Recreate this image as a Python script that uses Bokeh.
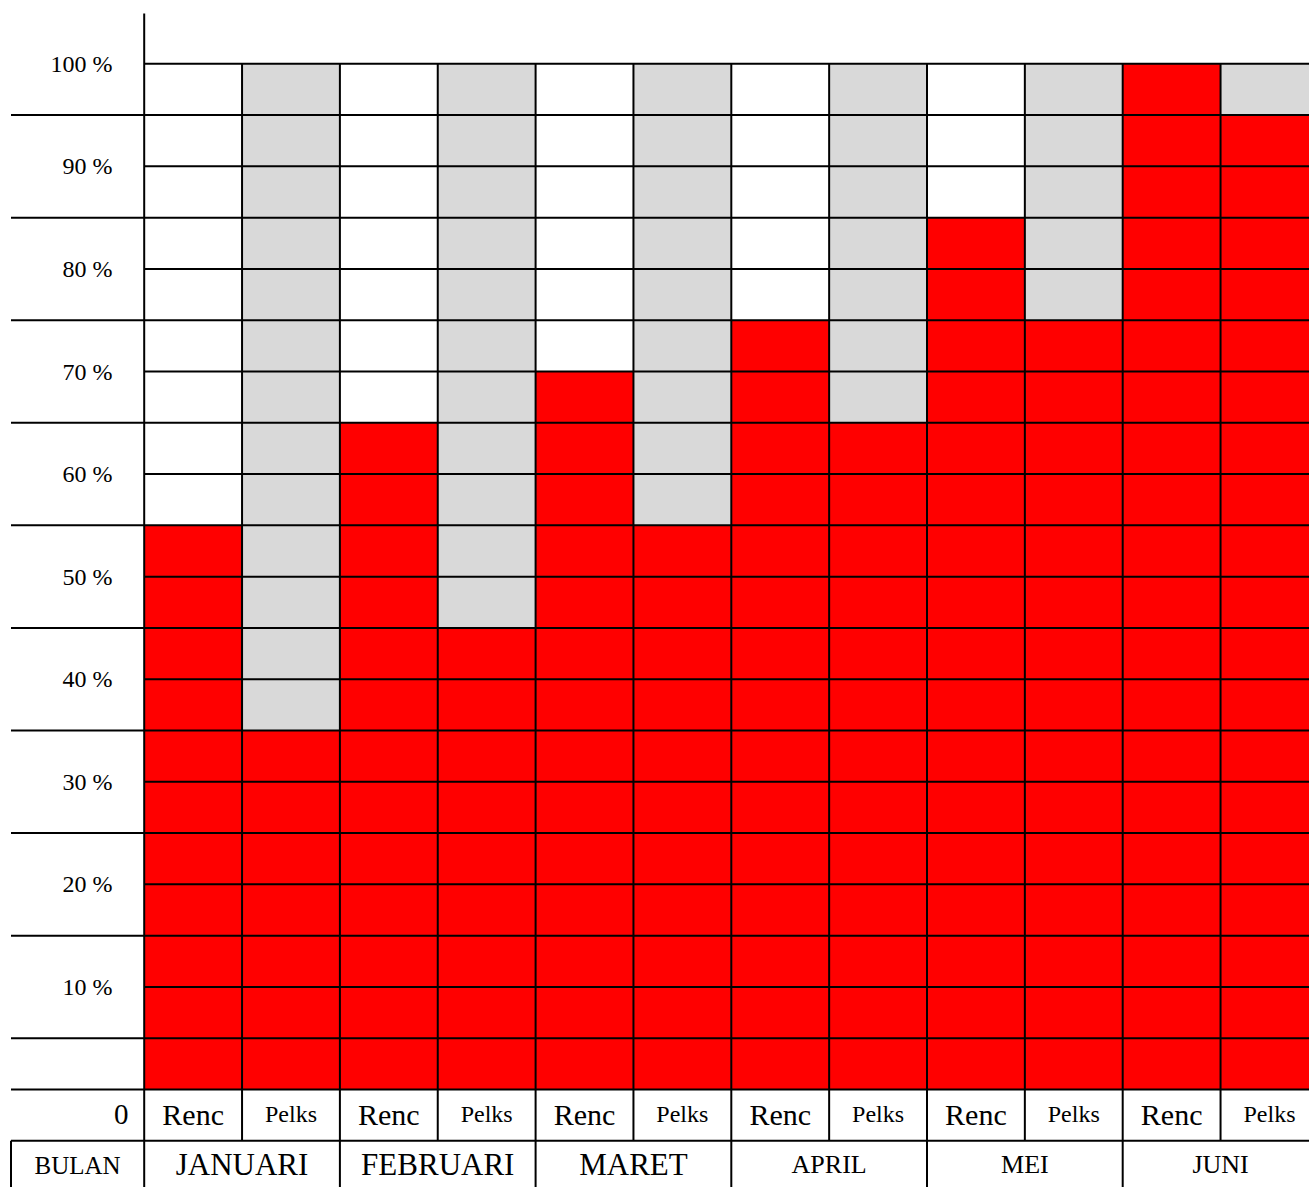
from bokeh.plotting import figure
from bokeh.models import Range1d, ColumnDataSource
from bokeh.core.properties import value
from bokeh.embed import file_html
from bokeh.resources import INLINE

# ---------------- data ----------------
months = ["JANUARI", "FEBRUARI", "MARET", "APRIL", "MEI", "JUNI"]
rencana = [55, 65, 70, 75, 85, 100]        # Renc (plan) %
pelaksanaan = [35, 45, 55, 65, 75, 95]     # Pelks (realisation) %
sub_labels = ["Renc", "Pelks"]
pct_ticks = [100, 90, 80, 70, 60, 50, 40, 30, 20, 10]
pct_labels = ["100 %", "90 %", "80 %", "70 %", "60 %", "50 %", "40 %", "30 %", "20 %", "10 %"]
zero_label = "0"
corner_label = "BULAN"
grid_step = 5
y_max = 100

# ---------------- style ----------------
RED = "#FF0000"
GREY = "#D9D9D9"
FONT = value("Liberation Serif")
month_font_sizes = ["31px", "31px", "31px", "26px", "26px", "26px"]
sub_font_sizes = {"Renc": "30px", "Pelks": "24px"}
LW = 2

W, H = 1309, 1187
COL_PX, X0_PX = 97.85, 143.7      # column width and x of first column (canvas px)
UNIT_PX, Y0_PX = 10.257, 1089.0   # px per percent, y of 0 % (canvas px)
ORIGIN = 0
x_start = (ORIGIN - X0_PX) / COL_PX
x_end = x_start + W / COL_PX
y_end = (Y0_PX - ORIGIN) / UNIT_PX
y_start = y_end - H / UNIT_PX

left_edge = (10.5 - X0_PX) / COL_PX
label_right = (112 - X0_PX) / COL_PX
zero_right = (128 - X0_PX) / COL_PX
row1_bottom = -5.0
far_bottom = y_start - 5
far_right = x_end + 1
ncols = 2 * len(months)

p = figure(width=W, height=H, x_range=Range1d(x_start, x_end), y_range=Range1d(y_start, y_end),
           output_backend="svg", toolbar_location=None, min_border=0,
           x_axis_location=None, y_axis_location=None, outline_line_color=None,
           background_fill_color="white", border_fill_color="white")
p.grid.visible = False

# bars
red = dict(left=[], right=[], bottom=[], top=[])
grey = dict(left=[], right=[], bottom=[], top=[])
for m in range(len(months)):
    r, pk = 2 * m, 2 * m + 1
    red["left"] += [r, pk]
    red["right"] += [r + 1, pk + 1]
    red["bottom"] += [0, 0]
    red["top"] += [rencana[m], pelaksanaan[m]]
    grey["left"].append(pk)
    grey["right"].append(pk + 1)
    grey["bottom"].append(pelaksanaan[m])
    grey["top"].append(y_max)
p.quad(source=ColumnDataSource(grey), left="left", right="right", bottom="bottom", top="top",
       fill_color=GREY, line_color=None)
p.quad(source=ColumnDataSource(red), left="left", right="right", bottom="bottom", top="top",
       fill_color=RED, line_color=None)

# grid lines
sx0, sx1, sy0, sy1 = [], [], [], []
for v in range(0, y_max + 1, grid_step):
    sx0.append(left_edge if (v % 10 != 0 or v == 0) else 0)
    sx1.append(far_right)
    sy0.append(v)
    sy1.append(v)
# line under Renc/Pelks row
sx0.append(left_edge); sx1.append(far_right); sy0.append(row1_bottom); sy1.append(row1_bottom)
# main vertical axis line
sx0.append(0); sx1.append(0); sy0.append(far_bottom); sy1.append(y_max + 4.9)
# column lines
for i in range(1, ncols + 1):
    sx0.append(i); sx1.append(i)
    sy0.append(row1_bottom if i % 2 == 1 else far_bottom)
    sy1.append(y_max)
# left border of BULAN cell
sx0.append(left_edge); sx1.append(left_edge); sy0.append(row1_bottom); sy1.append(far_bottom)
p.segment(x0=sx0, y0=sy0, x1=sx1, y1=sy1, line_color="black", line_width=LW)

# percent labels
p.text(x=[label_right] * len(pct_ticks), y=pct_ticks, text=pct_labels, text_font=FONT,
       text_font_size="24px", text_align="right", text_baseline="middle", text_color="black")
p.text(x=[zero_right], y=[-2.4], text=[zero_label], text_font=FONT, text_font_size="29px",
       text_align="right", text_baseline="middle", text_color="black")

# Renc / Pelks labels
for k, lab in enumerate(sub_labels):
    xs = [2 * m + k + 0.5 for m in range(len(months))]
    p.text(x=xs, y=[-2.4] * len(xs), text=[lab] * len(xs), text_font=FONT,
           text_font_size=sub_font_sizes[lab], text_align="center", text_baseline="middle",
           text_color="black")

# month labels
for m, name in enumerate(months):
    p.text(x=[2 * m + 1], y=[-7.3], text=[name], text_font=FONT, text_font_size=month_font_sizes[m],
           text_align="center", text_baseline="middle", text_color="black")
p.text(x=[left_edge / 2], y=[-7.4], text=[corner_label], text_font=FONT, text_font_size="25px",
       text_align="center", text_baseline="middle", text_color="black")

open("out.html", "w").write(file_html(p, INLINE))
